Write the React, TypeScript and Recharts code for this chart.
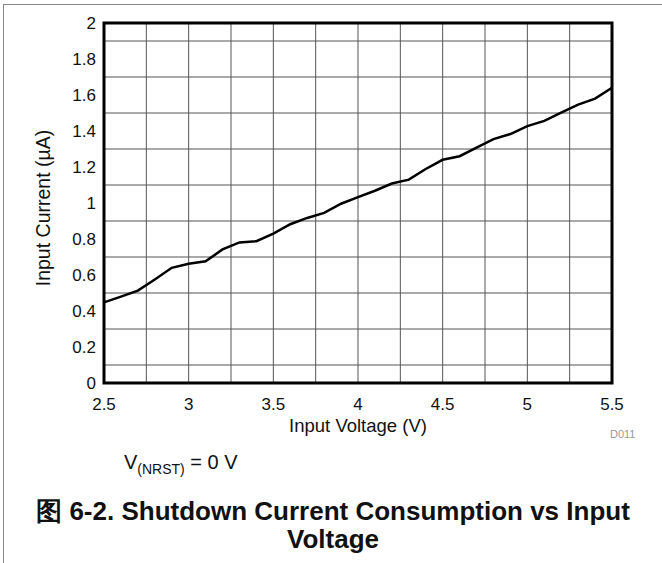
import React from "react";
import {
	CartesianGrid,
	Line,
	LineChart,
	ReferenceArea,
	XAxis,
	YAxis,
} from "recharts";

const voltage = [
	2.5, 2.6, 2.7, 2.8, 2.9, 3.0, 3.1, 3.2, 3.3, 3.4, 3.5, 3.6, 3.7, 3.8, 3.9, 4.0,
	4.1, 4.2, 4.3, 4.4, 4.5, 4.6, 4.7, 4.8, 4.9, 5.0, 5.1, 5.2, 5.3, 5.4, 5.5,
];
const current = [
	0.448, 0.48, 0.513, 0.575, 0.64, 0.662, 0.676, 0.742, 0.781, 0.788, 0.83,
	0.882, 0.917, 0.945, 0.996, 1.033, 1.068, 1.108, 1.13, 1.189, 1.24, 1.26,
	1.308, 1.355, 1.383, 1.427, 1.456, 1.502, 1.547, 1.58, 1.64,
];
const xTicks = [2.5, 3, 3.5, 4, 4.5, 5, 5.5];
const yTicks = [0, 0.2, 0.4, 0.6, 0.8, 1, 1.2, 1.4, 1.6, 1.8, 2];
const xGrid = [2.75, 3, 3.25, 3.5, 3.75, 4, 4.25, 4.5, 4.75, 5, 5.25];
const yGrid = [0.1, 0.2, 0.3, 0.4, 0.5, 0.6, 0.7, 0.8, 0.9, 1, 1.1, 1.2, 1.3, 1.4, 1.5, 1.6, 1.7, 1.8, 1.9];

const data = voltage.map((v, i) => ({ v, i: current[i] }));

const font = '"Liberation Sans", Arial, sans-serif';

export default function App() {
	return (
		<div
			style={{
				position: "absolute",
				left: 0,
				top: 0,
				width: 662,
				height: 563,
				background: "#fff",
				fontFamily: font,
				color: "#111",
			}}
		>
			{/* frame */}
			<div style={{ position: "absolute", left: 3, top: 4, width: 659, height: 559, borderLeft: "1.5px solid #888", borderTop: "1.5px solid #888" }} />

			<LineChart
				width={662}
				height={563}
				data={data}
				margin={{ top: 23, right: 50, bottom: 150, left: 44 }}
				style={{ position: "absolute", left: 0, top: 0 }}
			>
				<CartesianGrid
					stroke="#555"
					strokeWidth={1}
					horizontalValues={yGrid}
					verticalValues={xGrid}
				/>
				<XAxis
					dataKey="v"
					type="number"
					domain={[2.5, 5.5]}
					ticks={xTicks}
					tickSize={0}
					tickMargin={15}
					axisLine={false}
					tick={{ fill: "#111", fontSize: 17, fontFamily: font }}
					height={30}
				/>
				<YAxis
					type="number"
					domain={[0, 2]}
					ticks={yTicks}
					tickSize={0}
					tickMargin={8}
					axisLine={false}
					width={60}
					tick={{ fill: "#111", fontSize: 17, fontFamily: font }}
				/>
				<ReferenceArea
					x1={2.5}
					x2={5.5}
					y1={0}
					y2={2}
					fill="none"
					stroke="#000"
					strokeWidth={3}
					ifOverflow="visible"
				/>
				<Line
					type="linear"
					dataKey="i"
					stroke="#000"
					strokeWidth={2.5}
					dot={false}
					isAnimationActive={false}
				/>
			</LineChart>

			<div
				style={{
					position: "absolute",
					left: 43,
					top: 208,
					transform: "translate(-50%, -50%) rotate(-90deg)",
					fontSize: 19.5,
					whiteSpace: "nowrap",
				}}
			>
				Input Current (µA)
			</div>
			<div
				style={{
					position: "absolute",
					left: 358,
					top: 426,
					transform: "translate(-50%, -50%)",
					fontSize: 18.5,
					whiteSpace: "nowrap",
				}}
			>
				Input Voltage (V)
			</div>
			<div style={{ position: "absolute", left: 610, top: 428, fontSize: 11, color: "#999" }}>D011</div>
			<div style={{ position: "absolute", left: 124, top: 451, fontSize: 20, lineHeight: "22px", whiteSpace: "nowrap" }}>
				V<sub style={{ fontSize: 14, lineHeight: 0 }}>(NRST)</sub> = 0 V
			</div>
			<div
				style={{
					position: "absolute",
					left: 0,
					top: 497,
					width: 666,
					textAlign: "center",
					fontSize: 26,
					fontWeight: "bold",
					lineHeight: "28px",
				}}
			>
				图 6-2. Shutdown Current Consumption vs Input
				<br />
				Voltage
			</div>
		</div>
	);
}
